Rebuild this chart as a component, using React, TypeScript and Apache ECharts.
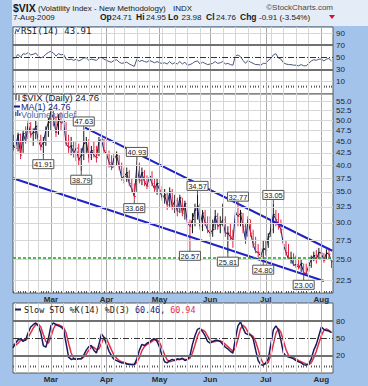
import React, { useEffect, useRef } from 'react';
import * as echarts from 'echarts';

// ---------- categories ----------
const HOLIDAYS = ['2009-02-16', '2009-04-10', '2009-05-25', '2009-07-03'];
const START_DAY = [2009, 1, 6];
const END_DAY = [2009, 7, 7];
const MONTH_NAMES = ['Jan', 'Feb', 'Mar', 'Apr', 'May', 'Jun', 'Jul', 'Aug', 'Sep', 'Oct', 'Nov', 'Dec'];

function buildDates(): string[] {
  const out: string[] = [];
  const d = new Date(Date.UTC(START_DAY[0], START_DAY[1], START_DAY[2]));
  const end = Date.UTC(END_DAY[0], END_DAY[1], END_DAY[2]);
  while (d.getTime() <= end) {
    const dow = d.getUTCDay();
    const iso = d.toISOString().slice(0, 10);
    if (dow !== 0 && dow !== 6 && HOLIDAYS.indexOf(iso) < 0) out.push(iso);
    d.setUTCDate(d.getUTCDate() + 1);
  }
  return out;
}
const dates = buildDates();

// ---------- price (daily high / low / close) ----------
const highs = [
  46.5, 45.5, 47.0, 46.8, 47.5, 48.5, 49.8, 49.5, 48.0, 50.0, 49.5, 46.5, 46.0, 48.5, 50.5,
  53.0, 52.5, 51.0, 51.5, 52.0, 51.0, 49.5, 46.5, 46.0, 45.0, 45.0, 44.5, 43.5, 47.63, 46.0, 45.5, 44.0, 45.0, 44.0, 46.0, 46.5, 45.5,
  44.5, 43.0, 42.0, 42.5, 42.8, 42.0, 40.5, 39.5, 39.5, 39.0, 37.5, 36.5, 40.93, 40.5, 39.5, 39.0, 38.0, 38.5, 38.8, 37.5, 37.5,
  37.0, 36.0, 35.5, 35.0, 35.8, 35.5, 34.5, 34.0, 34.5, 34.0, 33.5, 33.0, 30.5, 31.5, 33.0, 34.57, 33.0, 32.0, 32.0, 31.0,
  31.0, 30.5, 32.0, 31.5, 31.0, 33.0, 31.0, 29.5, 30.0, 29.0, 32.0, 32.77, 32.0, 31.5, 30.0, 31.0, 30.5, 29.0, 28.0, 27.0, 26.5, 27.5,
  27.5, 28.5, 30.5, 33.05, 32.0, 31.5, 30.5, 29.5, 27.5, 27.0, 26.0, 25.8, 25.5, 25.2, 25.0, 24.5, 24.5, 24.5, 25.5, 26.0, 26.2, 26.5,
  26.3, 25.8, 26.3, 26.5, 24.95,
];
const lows = [
  43.0, 42.5, 42.8, 41.2, 42.5, 44.5, 45.5, 45.8, 44.0, 45.5, 44.5, 43.0, 41.91, 44.0, 46.0,
  47.5, 48.5, 46.0, 46.5, 47.5, 47.0, 44.0, 42.5, 42.0, 41.5, 40.8, 40.0, 38.79, 41.0, 42.5, 40.5, 41.0, 41.5, 40.5, 41.8, 43.5, 42.5,
  41.0, 39.5, 39.0, 39.5, 40.0, 39.0, 37.0, 36.5, 36.8, 36.0, 35.0, 33.68, 35.0, 36.5, 36.2, 36.0, 35.5, 35.8, 36.0, 35.0, 34.5,
  34.5, 33.5, 33.0, 32.0, 32.5, 32.0, 31.5, 31.0, 31.5, 31.0, 30.5, 29.5, 26.57, 28.5, 29.5, 30.5, 29.0, 28.8, 29.5, 28.5,
  28.0, 28.0, 29.0, 29.0, 28.5, 29.5, 28.0, 25.81, 27.5, 26.5, 27.5, 29.5, 29.5, 28.5, 27.0, 28.0, 28.0, 26.5, 25.8, 25.3, 25.0, 24.8,
  25.5, 26.5, 28.0, 28.5, 29.5, 29.0, 28.5, 26.5, 25.5, 25.0, 24.5, 24.2, 24.0, 23.8, 23.5, 23.0, 23.1, 23.5, 24.0, 24.8, 24.5, 25.0,
  25.0, 24.6, 25.0, 25.2, 23.98,
];
const closes = [
  44.0, 43.5, 46.5, 42.0, 46.8, 45.0, 49.2, 46.5, 47.0, 48.5, 45.2, 43.8, 44.8, 47.5, 49.5,
  52.0, 50.5, 47.0, 50.2, 49.3, 49.7, 44.5, 43.6, 44.0, 42.4, 43.5, 41.0, 42.0, 44.5, 45.0, 41.5, 43.0, 42.0, 41.5, 45.0, 45.5, 43.0,
  42.3, 40.5, 39.5, 41.5, 42.0, 39.8, 37.5, 37.8, 38.5, 36.5, 35.5, 34.2, 40.0, 37.0, 38.5, 36.8, 36.0, 37.8, 36.5, 35.5, 36.5,
  35.3, 34.0, 34.5, 32.8, 35.0, 32.5, 33.5, 31.8, 34.0, 31.5, 33.0, 30.0, 29.5, 30.5, 32.0, 32.6, 29.5, 31.5, 30.0, 28.9,
  28.5, 29.0, 31.0, 29.5, 29.8, 30.5, 28.5, 28.5, 28.0, 27.5, 31.5, 31.0, 31.5, 29.5, 27.5, 30.5, 28.5, 27.0, 26.0, 25.9, 25.4, 26.4,
  26.2, 28.0, 29.0, 31.3, 30.5, 29.8, 29.0, 26.9, 25.9, 25.0, 25.2, 24.3, 24.4, 24.0, 24.5, 23.4, 23.3, 24.3, 25.0, 25.5, 25.0, 25.9,
  25.8, 24.9, 25.8, 25.67, 24.76,
];

// ---------- indicators ----------
const rsi14 = [
  48, 50, 55, 50, 56, 55, 58, 54, 55, 57, 52, 49, 51, 55, 58,
  60, 57, 52, 56, 54, 55, 47, 46, 47, 45, 47, 44, 46, 49, 49, 45, 47, 46, 45, 49, 50, 47,
  45, 43, 42, 45, 46, 42, 40, 41, 42, 39, 37, 35, 47, 43, 45, 43, 42, 45, 43, 41, 43,
  41, 40, 41, 39, 43, 39, 41, 39, 43, 39, 42, 37, 38, 40, 43, 44, 39, 42, 40, 38,
  39, 40, 43, 40, 41, 43, 39, 40, 38, 37, 52, 54, 51, 45, 40, 45, 42, 40, 38, 38, 37, 40,
  40, 45, 48, 54, 56, 49, 47, 41, 39, 38, 38, 37, 37, 36, 38, 36, 36, 40, 44, 46, 45, 47,
  47, 44, 47, 48, 43.91,
];
const stoK = [
  34, 42, 48, 50, 45, 48, 60, 70, 74, 77, 72, 60, 38, 35, 50,
  72, 77, 74, 72, 70, 66, 42, 18, 14, 15, 14, 15, 15, 22, 30, 36, 38, 30, 25, 40, 58, 52,
  40, 28, 20, 14, 12, 10, 8, 8, 6, 5, 5, 5, 15, 30, 40, 38, 42, 44, 48, 50, 45,
  35, 20, 10, 8, 12, 14, 12, 15, 14, 16, 12, 14, 20, 40, 55, 66, 68, 62, 55, 45,
  42, 45, 47, 47, 45, 40, 35, 32, 28, 25, 50, 72, 79, 68, 59, 57, 56, 50, 30, 12, 5, 4,
  8, 15, 40, 65, 72, 65, 47, 25, 20, 18, 17, 15, 12, 10, 8, 5, 4, 6, 15, 30, 40, 55,
  70, 66, 64, 63, 60.46,
];
const stoD = [
  40, 38, 42, 47, 48, 47, 52, 60, 68, 74, 75, 70, 57, 45, 42,
  53, 67, 75, 74, 72, 69, 60, 42, 25, 16, 15, 15, 15, 18, 23, 30, 35, 35, 31, 32, 42, 52,
  50, 40, 30, 21, 16, 12, 10, 9, 7, 6, 5, 5, 9, 17, 29, 36, 40, 42, 45, 48, 48,
  43, 33, 22, 13, 10, 11, 13, 14, 14, 15, 14, 14, 16, 25, 39, 54, 63, 65, 62, 54,
  47, 44, 45, 46, 46, 44, 40, 36, 32, 28, 34, 49, 67, 73, 69, 61, 57, 54, 45, 31, 16, 7,
  6, 9, 21, 40, 59, 67, 61, 46, 31, 21, 18, 17, 15, 12, 10, 8, 6, 5, 8, 17, 28, 42,
  55, 64, 67, 64, 60.94,
];

// ---------- axis ticks ----------
const priceTicks = [22.5, 25, 27.5, 30, 32.5, 35, 37.5, 40, 42.5, 45, 47.5, 50, 52.5, 55];
const rsiTicks = [10, 30, 50, 70, 90];
const stoTicks = [20, 50, 80];

// ---------- annotations / drawings ----------
const annIdx = [12, 28, 27, 49, 48, 73, 70, 89, 85, 103, 99, 115];
const annVal = [41.91, 47.63, 38.79, 40.93, 33.68, 34.57, 26.57, 32.77, 25.81, 33.05, 24.8, 23.0];
const annSide = [-1, 1, -1, 1, -1, 1, -1, 1, -1, 1, -1, -1];
const upperTrend = [[28.5, 48.2], [126.3, 26.12]];
const lowerTrend = [[0, 37.45], [123.0, 22.47]];
const supportLevel = 25.23;

// ---------- derived positions from the calendar ----------
const allIdx = dates.map((_, i) => i);
const monthIdx = allIdx.filter((i) => i === 0 ? false : dates[i].slice(5, 7) !== dates[i - 1].slice(5, 7));
const weekIdx = allIdx.filter((i) => {
  if (i === 0) return false;
  const a = new Date(dates[i] + 'T00:00:00Z').getUTCDay();
  const b = new Date(dates[i - 1] + 'T00:00:00Z').getUTCDay();
  return a < b;
});

const X_MAX = 126.6;
const FRAME = '#a3c3ea';
const GRID_LIGHT = '#d6d6d6';
const GRID_MONTH = '#a9a9a9';
const FONT = 'Liberation Sans';
const MONO = 'DejaVu Sans Mono';

function vLines() {
  return [
    ...weekIdx.filter((i) => monthIdx.indexOf(i) < 0).map((i) => ({ xAxis: i, lineStyle: { color: GRID_LIGHT, width: 1, type: 'solid' }, label: { show: false } })),
    ...monthIdx.map((i) => ({ xAxis: i, lineStyle: { color: GRID_MONTH, width: 1, type: 'solid' }, label: { show: false } })),
  ];
}
function hLine(v: number, style: any, text?: string) {
  return {
    yAxis: v,
    lineStyle: style,
    label: text
      ? { show: true, position: 'end', formatter: text, color: '#1e1e1e', fontSize: 8, fontFamily: FONT, distance: 3 }
      : { show: false },
  };
}
function markLine(data: any[]) {
  return { silent: true, symbol: ['none', 'none'], animation: false, data };
}

function T(text: string, x: number, y: number, o: any = {}) {
  return {
    type: 'text', x, y, z: 100, silent: true,
    style: {
      text, fill: o.fill || '#1a1a1a', fontSize: o.size || 8, fontFamily: o.family || FONT,
      fontWeight: o.weight || 'normal', align: o.align || 'left', verticalAlign: 'middle',
    },
  };
}

function buildOption(): any {
  const xCommon = (gi: number, labels: boolean) => ({
    type: 'value', gridIndex: gi, min: 0, max: X_MAX,
    splitLine: { show: false },
    axisLine: { show: false },
    axisTick: { show: true, customValues: allIdx, length: 2, inside: true, lineStyle: { color: '#555' } },
    axisLabel: labels
      ? {
          show: true, customValues: monthIdx, margin: 2, fontSize: 8, fontWeight: 'bold', color: '#2b2b2b', fontFamily: FONT,
          formatter: (v: number) => MONTH_NAMES[Number(dates[Math.round(v)].slice(5, 7)) - 1],
        }
      : { show: false },
  });
  const yHidden = (gi: number, extra: any) => ({
    gridIndex: gi, position: 'right', axisLine: { show: false }, axisTick: { show: false },
    axisLabel: { show: false }, splitLine: { show: false }, ...extra,
  });
  const gridBase = { left: 13, width: 320, show: true, backgroundColor: '#ffffff', borderColor: '#5a5a5a', borderWidth: 1 };

  const strong = { color: '#707070', width: 2, type: 'solid' };
  const dashDot = { color: '#333', width: 1, type: [6, 2, 1, 2] };
  const light = { color: GRID_LIGHT, width: 1, type: 'solid' };

  const rsiLines = [
    ...vLines(),
    ...rsiTicks.map((t) => hLine(t, t === 50 ? dashDot : (t === 30 || t === 70 ? strong : light), String(t))),
  ];
  const priceLines = [
    ...vLines(),
    ...priceTicks.map((t) => hLine(t, light, t.toFixed(1))),
  ];
  const stoLines = [
    ...vLines(),
    ...stoTicks.map((t) => hLine(t, t === 50 ? dashDot : strong, String(t))),
  ];

  const graphic = [
    { type: 'rect', z: -1, silent: true, shape: { x: 12, y: 0, width: 356, height: 26 }, style: { fill: '#e3ecf7' } },
    T('$VIX', 13, 8, { size: 10.5, weight: 'bold' }),
    T('(Volatility Index - New Methodology)', 38, 8.5, { size: 8 }),
    T('INDX', 173, 8.5, { size: 8 }),
    T('©StockCharts.com', 333, 7.5, { size: 8, align: 'right', fill: '#4a4a4a' }),
    T('7-Aug-2009', 13, 17, { size: 8 }),
    T('Op', 100, 17, { size: 8.5, weight: 'bold' }), T('24.71', 112, 17, { size: 8 }),
    T('Hi', 136, 17, { size: 8.5, weight: 'bold' }), T('24.95', 146, 17, { size: 8 }),
    T('Lo', 168, 17, { size: 8.5, weight: 'bold' }), T('23.98', 181.5, 17, { size: 8 }),
    T('Cl', 206, 17, { size: 8.5, weight: 'bold' }), T('24.76', 216, 17, { size: 8 }),
    T('Chg', 240, 17, { size: 8.5, weight: 'bold' }), T('-0.91 (-3.54%)', 259, 17, { size: 8 }),
    { type: 'polygon', z: 100, silent: true, shape: { points: [[329, 15], [335, 15], [332, 19]] }, style: { fill: '#d0103a' } },
    // RSI legend
    { type: 'polyline', z: 100, silent: true, shape: { points: [[15, 34], [16.5, 29], [18, 32], [19.5, 28]] }, style: { stroke: '#3050a0', lineWidth: 1, fill: null } },
    T('RSI(14) 43.91', 21, 31, { family: MONO, size: 9 }),
    // price legend
    { type: 'line', z: 100, silent: true, shape: { x1: 16, y1: 93.5, x2: 16, y2: 100 }, style: { stroke: '#222', lineWidth: 1 } },
    { type: 'line', z: 100, silent: true, shape: { x1: 19, y1: 95, x2: 19, y2: 101 }, style: { stroke: '#222', lineWidth: 1 } },
    T('$VIX (Daily) 24.76', 22, 97.5, { size: 9.5 }),
    { type: 'line', z: 100, silent: true, shape: { x1: 14, y1: 106.5, x2: 20, y2: 106.5 }, style: { stroke: '#1a1a80', lineWidth: 2 } },
    T('MA(1) 24.76', 21, 106.5, { size: 9, fill: '#1a1a80' }),
    { type: 'rect', z: 100, silent: true, shape: { x: 15, y: 112, width: 1.5, height: 4 }, style: { fill: '#3d6fb6' } },
    { type: 'rect', z: 100, silent: true, shape: { x: 17, y: 110, width: 1.5, height: 6 }, style: { fill: '#3d6fb6' } },
    { type: 'rect', z: 100, silent: true, shape: { x: 19, y: 113, width: 1.5, height: 3 }, style: { fill: '#3d6fb6' } },
    T('Volume undef', 21, 115, { size: 9, fill: '#3d6fb6' }),
    // STO legend
    { type: 'line', z: 100, silent: true, shape: { x1: 15, y1: 309.5, x2: 21, y2: 309.5 }, style: { stroke: '#1a1a5e', lineWidth: 2 } },
    {
      type: 'text', x: 24, y: 309.5, z: 100, silent: true,
      style: {
        text: '{a|Slow STO %K(14) %D(3) }{b|60.46, }{c|60.94}',
        verticalAlign: 'middle', align: 'left',
        rich: {
          a: { fontFamily: MONO, fontSize: 8.4, fill: '#1a1a1a' },
          b: { fontFamily: MONO, fontSize: 8.4, fill: '#1a1a80' },
          c: { fontFamily: MONO, fontSize: 8.4, fill: '#e0304a' },
        },
      },
    },
  ];

  return {
    animation: false,
    backgroundColor: 'transparent',
    grid: [
      { ...gridBase, top: 27, height: 67 },
      { ...gridBase, top: 94, height: 199 },
      { ...gridBase, top: 303, height: 70 },
    ],
    xAxis: [xCommon(0, false), xCommon(1, true), xCommon(2, true)],
    yAxis: [
      yHidden(0, { type: 'value', min: -10.5, max: 100 }),
      yHidden(1, { type: 'log', logBase: 10, min: 21.17, max: 56.95 }),
      yHidden(2, { type: 'value', min: -9.5, max: 111.5 }),
    ],
    graphic,
    series: [
      {
        name: 'RSI', type: 'line', xAxisIndex: 0, yAxisIndex: 0, z: 2, clip: false,
        data: rsi14.map((v, i) => [i, v]), symbol: 'none',
        lineStyle: { color: '#4a5878', width: 1 },
        markLine: markLine(rsiLines),
      },
      {
        name: 'MA(1)', type: 'line', xAxisIndex: 1, yAxisIndex: 1, z: 2, clip: false,
        data: closes.map((v, i) => [i, v]), symbol: 'none',
        lineStyle: { color: '#1c1c70', width: 1 },
        markLine: markLine(priceLines),
      },
      {
        name: 'VIX', type: 'custom', xAxisIndex: 1, yAxisIndex: 1, z: 3, clip: true,
        data: closes.map((c, i) => [i, highs[i], lows[i], c, i > 0 && c < closes[i - 1] ? 1 : 0]),
        encode: { x: 0, y: [1, 2, 3] },
        renderItem: (params: any, api: any) => {
          const i = api.value(0);
          const top = api.coord([i, api.value(1)]);
          const bot = api.coord([i, api.value(2)]);
          const cl = api.coord([i, api.value(3)]);
          const color = api.value(4) ? '#e4213f' : '#141414';
          return {
            type: 'group',
            children: [
              { type: 'line', shape: { x1: top[0], y1: top[1], x2: bot[0], y2: bot[1] }, style: { stroke: color, lineWidth: 1 } },
              { type: 'line', shape: { x1: cl[0], y1: cl[1], x2: cl[0] + 1.5, y2: cl[1] }, style: { stroke: color, lineWidth: 1 } },
            ],
          };
        },
      },
      {
        name: 'upper', type: 'line', xAxisIndex: 1, yAxisIndex: 1, z: 4, data: upperTrend, symbol: 'none',
        lineStyle: { color: '#2121c6', width: 2 },
        markLine: markLine([{ yAxis: supportLevel, lineStyle: { color: '#2a9a2a', width: 1.5, type: [3, 2] }, label: { show: false } }]),
      },
      {
        name: 'lower', type: 'line', xAxisIndex: 1, yAxisIndex: 1, z: 4, data: lowerTrend, symbol: 'none',
        lineStyle: { color: '#2121c6', width: 2 },
      },
      {
        name: 'notes', type: 'custom', xAxisIndex: 1, yAxisIndex: 1, z: 5, clip: false,
        data: annIdx.map((ix, k) => [ix, annVal[k], annSide[k]]),
        encode: { x: 0, y: 1 },
        renderItem: (params: any, api: any) => {
          const p = api.coord([api.value(0), api.value(1)]);
          const side = api.value(2);
          const w = 21, h = 9, gap = 4;
          const by = side > 0 ? p[1] - gap - h : p[1] + gap;
          const txt = Number(api.value(1)).toFixed(2);
          return {
            type: 'group',
            children: [
              { type: 'line', shape: { x1: p[0], y1: p[1], x2: p[0], y2: side > 0 ? by + h : by }, style: { stroke: '#555', lineWidth: 1 } },
              { type: 'rect', shape: { x: p[0] - w / 2, y: by, width: w, height: h }, style: { fill: '#ffffff', stroke: '#555', lineWidth: 1 } },
              { type: 'text', x: p[0], y: by + h / 2 + 0.5, style: { text: txt, fill: '#222', fontSize: 7.5, fontFamily: FONT, align: 'center', verticalAlign: 'middle' } },
            ],
          };
        },
      },
      {
        name: '%D', type: 'line', xAxisIndex: 2, yAxisIndex: 2, z: 2, clip: false,
        data: stoD.map((v, i) => [i, v]), symbol: 'none',
        lineStyle: { color: '#e0304a', width: 1.5 },
        markLine: markLine(stoLines),
      },
      {
        name: '%K', type: 'line', xAxisIndex: 2, yAxisIndex: 2, z: 3, clip: false,
        data: stoK.map((v, i) => [i, v]), symbol: 'none',
        lineStyle: { color: '#1a1a5e', width: 1.5 },
      },
    ],
  };
}

export default function App() {
  const ref = useRef<HTMLDivElement>(null);
  useEffect(() => {
    if (!ref.current) return;
    const chart = echarts.init(ref.current, undefined, { renderer: 'svg' });
    chart.setOption(buildOption());
    return () => chart.dispose();
  }, []);
  return (
    <div style={{ position: 'fixed', left: 0, top: 0, width: 368, height: 386, background: FRAME }}>
      <div ref={ref} style={{ width: 368, height: 386 }} />
    </div>
  );
}
